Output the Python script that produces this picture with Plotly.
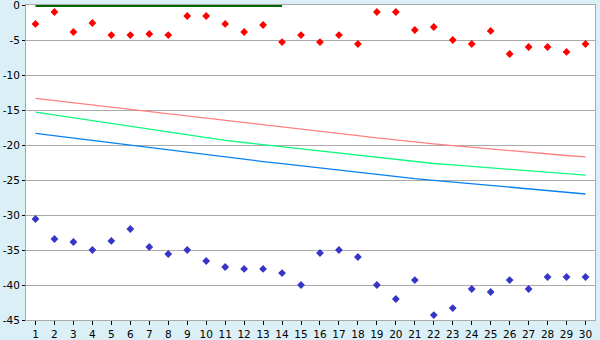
import plotly.graph_objects as go

categories = [str(i) for i in range(1, 31)]

red_points = [-2.7, -1.0, -3.86, -2.57, -4.29, -4.29, -4.14, -4.29, -1.57, -1.57,
              -2.71, -3.86, -2.86, -5.29, -4.29, -5.29, -4.29, -5.57, -1.0, -1.0,
              -3.57, -3.14, -5.0, -5.57, -3.71, -7.0, -6.0, -6.0, -6.71, -5.57]

blue_points = [-30.57, -33.43, -33.86, -35.0, -33.71, -32.0, -34.57, -35.57, -35.0, -36.57,
               -37.43, -37.71, -37.71, -38.29, -40.0, -35.43, -35.0, -36.0, -40.0, -42.0,
               -39.29, -44.29, -43.29, -40.57, -41.0, -39.29, -40.57, -38.86, -38.86, -38.86]

red_line = [-13.33, -13.65, -13.97, -14.29, -14.61, -14.93, -15.25, -15.57, -15.89, -16.21,
            -16.53, -16.84, -17.15, -17.46, -17.77, -18.07, -18.37, -18.67, -18.97, -19.28,
            -19.6, -19.85, -20.1, -20.35, -20.6, -20.85, -21.08, -21.3, -21.5, -21.7]

green_line = [-15.29, -15.7, -16.1, -16.5, -16.9, -17.3, -17.7, -18.1, -18.5, -18.92,
              -19.33, -19.64, -19.95, -20.26, -20.57, -20.88, -21.19, -21.5, -21.81, -22.12,
              -22.43, -22.64, -22.85, -23.06, -23.27, -23.47, -23.68, -23.88, -24.08, -24.29]

blue_line = [-18.33, -18.67, -19.02, -19.36, -19.7, -20.05, -20.39, -20.73, -21.08, -21.42,
             -21.76, -22.06, -22.37, -22.67, -22.98, -23.28, -23.58, -23.89, -24.19, -24.5,
             -24.8, -25.04, -25.29, -25.53, -25.78, -26.02, -26.27, -26.51, -26.76, -27.0]

zero_line = [0.0] * 14 + [None] * 16

y_ticks = [0, -5, -10, -15, -20, -25, -30, -35, -40, -45]

fig = go.Figure()
fig.add_trace(go.Scatter(x=categories, y=red_line, mode="lines",
                         line=dict(color="#FF8080", width=1.3, shape="linear")))
fig.add_trace(go.Scatter(x=categories, y=green_line, mode="lines",
                         line=dict(color="#10F880", width=1.3)))
fig.add_trace(go.Scatter(x=categories, y=blue_line, mode="lines",
                         line=dict(color="#0A80F0", width=1.3)))
fig.add_trace(go.Scatter(x=categories, y=red_points, mode="markers",
                         marker=dict(symbol="diamond", size=6, color="#FF0000")))
fig.add_trace(go.Scatter(x=categories, y=blue_points, mode="markers",
                         marker=dict(symbol="diamond", size=6, color="#3535C8")))
fig.add_trace(go.Scatter(x=categories, y=zero_line, mode="lines",
                         line=dict(color="#006400", width=4), connectgaps=False))

fig.update_layout(
    width=600, height=340,
    margin=dict(l=26, r=5, t=5, b=20, pad=0, autoexpand=False),
    paper_bgcolor="#DAEFF6",
    plot_bgcolor="#FFFFFF",
    showlegend=False,
    font=dict(family="DejaVu Sans", size=11, color="#000000"),
)
fig.update_xaxes(
    type="category",
    range=[-0.5, 29.5],
    automargin=False,
    showgrid=False,
    ticks="outside", ticklen=4, tickcolor="#000000", tickwidth=1,
    showline=True, linecolor="#AAAAAA", linewidth=1, mirror=True,
    tickfont=dict(size=10.5),
    ticklabeloverflow="allow",
)
fig.update_yaxes(
    range=[-45, 0],
    automargin=False,
    tickvals=y_ticks,
    ticktext=[str(v) for v in y_ticks],
    showgrid=True, gridcolor="#AAAAAA", gridwidth=1,
    zeroline=False,
    ticks="outside", ticklen=3, tickcolor="#000000", tickwidth=1,
    showline=True, linecolor="#AAAAAA", linewidth=1, mirror=True,
    tickfont=dict(size=10.5),
    ticklabeloverflow="allow",
)

fig.write_html("out.html")
